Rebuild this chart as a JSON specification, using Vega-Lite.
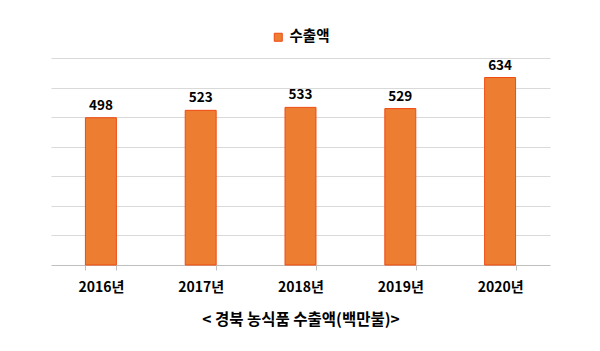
{
  "$schema": "https://vega.github.io/schema/vega-lite/v6.json",
  "autosize": "none",
  "width": 499,
  "height": 207,
  "padding": {"left": 51, "top": 58, "right": 50, "bottom": 86},
  "background": "white",
  "config": {
    "font": "Noto Sans CJK KR",
    "view": {"stroke": null}
  },
  "data": {
    "values": [
      {"year": "2016년", "value": 498, "series": "수출액"},
      {"year": "2017년", "value": 523, "series": "수출액"},
      {"year": "2018년", "value": 533, "series": "수출액"},
      {"year": "2019년", "value": 529, "series": "수출액"},
      {"year": "2020년", "value": 634, "series": "수출액"}
    ]
  },
  "encoding": {
    "x": {
      "field": "year",
      "type": "nominal",
      "sort": null,
      "scale": {"paddingInner": 0.69, "paddingOuter": 0.345},
      "axis": {
        "title": "< 경북 농식품 수출액(백만불)>",
        "titleFontSize": 15.5,
        "titleFontWeight": "bold",
        "titleColor": "#000000",
        "titlePadding": 18,
        "labelAngle": 0,
        "labelFontSize": 14,
        "labelFontWeight": "bold",
        "labelColor": "#000000",
        "labelPadding": 10,
        "tickBand": "extent",
        "tickSize": 5,
        "tickColor": "#bfbfbf",
        "domainColor": "#bfbfbf",
        "grid": false
      }
    },
    "y": {
      "field": "value",
      "type": "quantitative",
      "scale": {"domain": [0, 700]},
      "axis": {
        "title": null,
        "labels": false,
        "ticks": false,
        "domain": false,
        "values": [100, 200, 300, 400, 500, 600, 700],
        "gridColor": "#d9d9d9",
        "gridWidth": 1
      }
    }
  },
  "layer": [
    {
      "mark": {"type": "bar", "stroke": "#f04a10", "strokeWidth": 1},
      "encoding": {
        "color": {
          "field": "series",
          "type": "nominal",
          "scale": {"range": ["#ed7d31"]},
          "legend": {
            "title": null,
            "orient": "none",
            "legendX": 220,
            "legendY": -28,
            "symbolType": "square",
            "symbolSize": 64,
            "symbolStrokeColor": "#f04a10",
            "symbolStrokeWidth": 1,
            "labelFontSize": 14.5,
            "labelFontWeight": "bold",
            "labelColor": "#000000"
          }
        }
      }
    },
    {
      "mark": {"type": "text", "dy": -12, "fontSize": 13.5, "fontWeight": "bold", "color": "#000000"},
      "encoding": {"text": {"field": "value", "type": "quantitative"}}
    }
  ]
}
